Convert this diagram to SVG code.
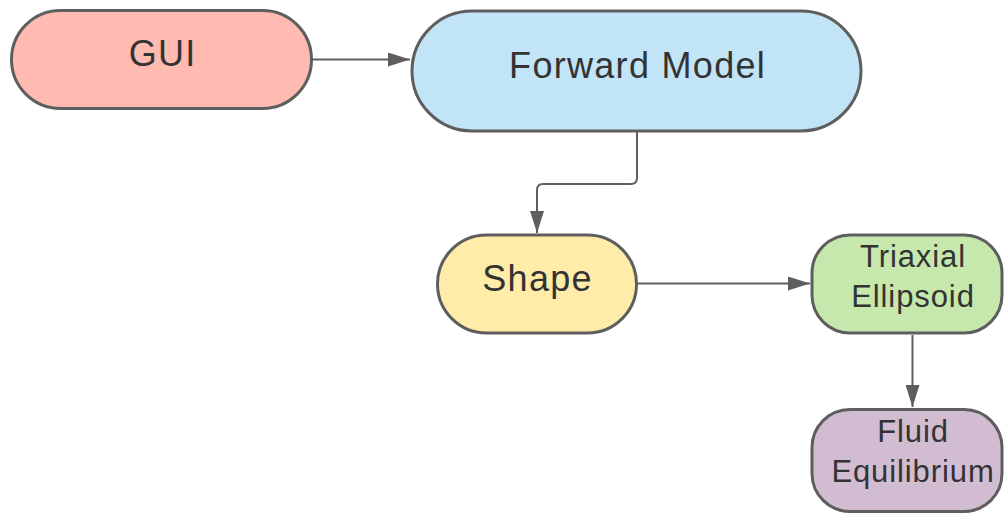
<svg xmlns="http://www.w3.org/2000/svg" width="1005" height="514" viewBox="0 0 1005 514">
<defs>
<style>
.n{stroke:#5e5e5e;stroke-width:3}
.t{font-family:"Liberation Sans",Arial,sans-serif;fill:#333333;text-anchor:middle}
.l{font-size:36px;letter-spacing:1.3px}
.s{font-size:31px;letter-spacing:0.9px}
.c{fill:none;stroke:#5e5e5e;stroke-width:2}
</style>
<marker id="ah" markerWidth="22" markerHeight="14" refX="22" refY="7" orient="auto" markerUnits="userSpaceOnUse">
<path d="M0,0 L22,7 L0,14 Z" fill="#5e5e5e"/>
</marker>
</defs>
<rect width="1005" height="514" fill="#ffffff"/>
<g id="connectors">
<path class="c" d="M313,59.5 L410,59.5" marker-end="url(#ah)"/>
<path class="c" d="M637,132 L637,178 Q637,184 631,184 L543,184 Q537,184 537,190 L537,233" marker-end="url(#ah)"/>
<path class="c" d="M638,283.5 L810,283.5" marker-end="url(#ah)"/>
<path class="c" d="M912.5,335 L912.5,407" marker-end="url(#ah)"/>
</g>
<g id="gui">
<rect class="n" x="11.5" y="10.5" width="300" height="98" rx="49" fill="#ffbbb1"/>
<text class="t l" x="162.6" y="66">GUI</text>
</g>
<g id="forward-model">
<rect class="n" x="412" y="11" width="449" height="120" rx="60" fill="#c1e4f7"/>
<text class="t l" x="637.6" y="77.5">Forward Model</text>
</g>
<g id="shape">
<rect class="n" x="437.5" y="235" width="199" height="98" rx="49" fill="#ffeca9"/>
<text class="t l" x="537.6" y="291">Shape</text>
</g>
<g id="triaxial-ellipsoid">
<rect class="n" x="812" y="235" width="190" height="98" rx="38" fill="#c7e8ac"/>
<text class="t s" x="913" y="267">Triaxial</text>
<text class="t s" x="913" y="307">Ellipsoid</text>
</g>
<g id="fluid-equilibrium">
<rect class="n" x="812" y="409.5" width="190" height="102" rx="38" fill="#d1bcd2"/>
<text class="t s" x="913" y="442">Fluid</text>
<text class="t s" x="913" y="482">Equilibrium</text>
</g>
</svg>
